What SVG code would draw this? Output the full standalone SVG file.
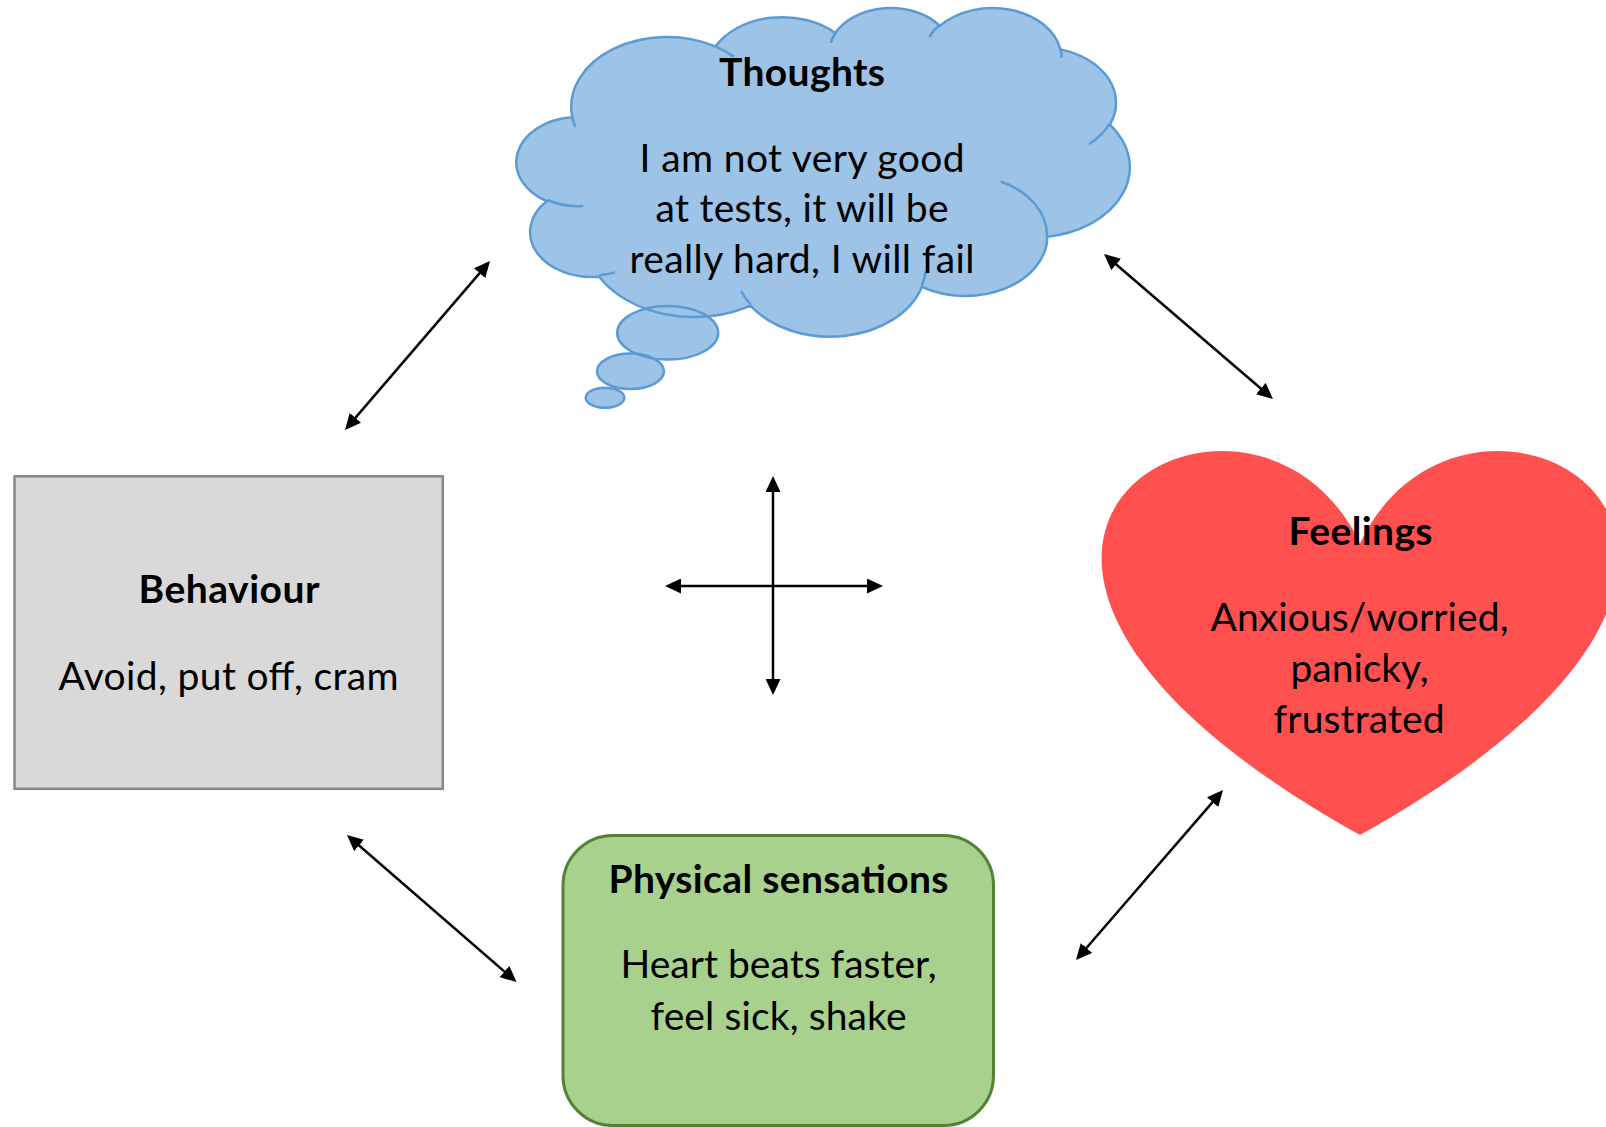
<svg xmlns="http://www.w3.org/2000/svg" xmlns:xlink="http://www.w3.org/1999/xlink" width="1606" height="1127" viewBox="0 0 1606 1127">
  <style>
    text { font-family: Lato, "Open Sans", "Liberation Sans", sans-serif; font-size: 39px; fill: #000; text-anchor: middle; }
    .title { font-weight: bold; }
    .cloud-fill { fill: #9dc3e6; stroke: none; }
    .cloud-line { fill: none; stroke: #5b9bd5; stroke-width: 2.5; }
    .link { fill: none; stroke: #000; stroke-width: 2.5; marker-start: url(#head); marker-end: url(#head); }
  </style>
  <defs>
    <marker id="head" viewBox="0 0 16 15" markerWidth="16" markerHeight="15" refX="8" refY="7.5" orient="auto-start-reverse" markerUnits="userSpaceOnUse">
      <path d="M0,0 L16,7.5 L0,15 Z" fill="#000"/>
    </marker>
    <!-- cloud outline in a 43200 unit box, scaled into place -->
    <path id="cloud" vector-effect="non-scaling-stroke" transform="translate(516.8 6.94) scale(0.014183 0.007606)"
      d="M3900 14370 A6753 9190 0 0 1 14005 5202 A5333 7267 0 0 1 22456 3432 A4365 5945 0 0 1 29834 2481 A4857 6595 0 0 1 38319 5577 A5333 7273 0 0 1 41820 15461 A6775 9220 0 0 1 37405 30202 A5785 7867 0 0 1 28556 36812 A6752 9215 0 0 1 16481 39265 A7720 10543 0 0 1 5803 35470 A4360 5918 0 0 1 2113 25547 A4345 5945 0 0 1 3863 14504 Z"/>
    <ellipse id="bubble1" cx="667.7" cy="332.8" rx="50.5" ry="26.8"/>
    <ellipse id="bubble2" cx="630.5" cy="371.3" rx="33.5" ry="17.7"/>
    <ellipse id="bubble3" cx="605" cy="397.7" rx="19.3" ry="10"/>
  </defs>

  <g id="node-thoughts">
    <use xlink:href="#cloud" class="cloud-fill"/>
    <use xlink:href="#bubble1" class="cloud-fill"/>
    <use xlink:href="#bubble2" class="cloud-fill"/>
    <use xlink:href="#bubble3" class="cloud-fill"/>
    <use xlink:href="#cloud" class="cloud-line"/>
    <!-- inner creases of the cloud puffs -->
    <path class="cloud-line" vector-effect="non-scaling-stroke" transform="translate(516.8 6.94) scale(0.014183 0.007606)"
      d="M4693 26177 A4345 5945 0 0 1 2159 25380 M6928 34899 A4360 5918 0 0 1 5819 35281 M16478 39090 A6752 9215 0 0 1 15810 37350 M28827 34751 A6752 9215 0 0 1 28561 36659 M34129 22954 A5785 7867 0 0 1 37381 30090 M41798 15354 A5333 7273 0 0 1 40350 18029 M38324 5426 A4857 6595 0 0 1 38400 6690 M29078 3952 A4857 6595 0 0 1 29820 2340 M22141 4720 A4365 5945 0 0 1 22500 3331 M14000 5192 A6753 9190 0 0 1 15299 6540 M4127 15789 A6753 9190 0 0 1 3900 14370"/>
    <use xlink:href="#bubble1" class="cloud-line"/>
    <use xlink:href="#bubble2" class="cloud-line"/>
    <use xlink:href="#bubble3" class="cloud-line"/>
    <text class="title" x="802" y="86" textLength="166">Thoughts</text>
    <text x="802" y="172" textLength="325">I am not very good</text>
    <text x="802" y="222" textLength="293">at tests, it will be</text>
    <text x="802" y="273" textLength="345">really hard, I will fail</text>
  </g>

  <g id="node-behaviour">
    <rect x="14.5" y="476.3" width="428.3" height="312.5" fill="#d9d9d9" stroke="#878787" stroke-width="2.5"/>
    <text class="title" x="229" y="603" textLength="181">Behaviour</text>
    <text x="228.5" y="690" textLength="340">Avoid, put off, cram</text>
  </g>

  <g id="node-feelings">
    <path d="M1360,543.5 C1466.9,316.7 1883.7,543.5 1360,835 C836.3,543.5 1253.1,316.7 1360,543.5 Z" fill="#ff5050"/>
    <text class="title" x="1360.5" y="545" textLength="144">Feelings</text>
    <text x="1359.5" y="631" textLength="298">Anxious/worried,</text>
    <text x="1359.5" y="682" textLength="138">panicky,</text>
    <text x="1359" y="733" textLength="171">frustrated</text>
  </g>

  <g id="node-physical">
    <rect x="563" y="835.5" width="430.5" height="290" rx="50" ry="50" fill="#a9d18e" stroke="#538135" stroke-width="3"/>
    <text class="title" x="778.5" y="893" textLength="340">Physical sensations</text>
    <text x="778.5" y="978" textLength="316">Heart beats faster,</text>
    <text x="778.5" y="1030" textLength="256">feel sick, shake</text>
  </g>

  <g id="connectors">
    <line class="link" x1="350.2" y1="423.9" x2="484.8" y2="267.1"/>
    <line class="link" x1="1110.1" y1="259.2" x2="1266.9" y2="393.8"/>
    <line class="link" x1="353.0" y1="840.2" x2="510.5" y2="976.8"/>
    <line class="link" x1="1081.2" y1="954.0" x2="1217.8" y2="796.1"/>
    <line class="link" x1="773" y1="484" x2="773" y2="687"/>
    <line class="link" x1="673" y1="586" x2="875" y2="586"/>
  </g>
</svg>
